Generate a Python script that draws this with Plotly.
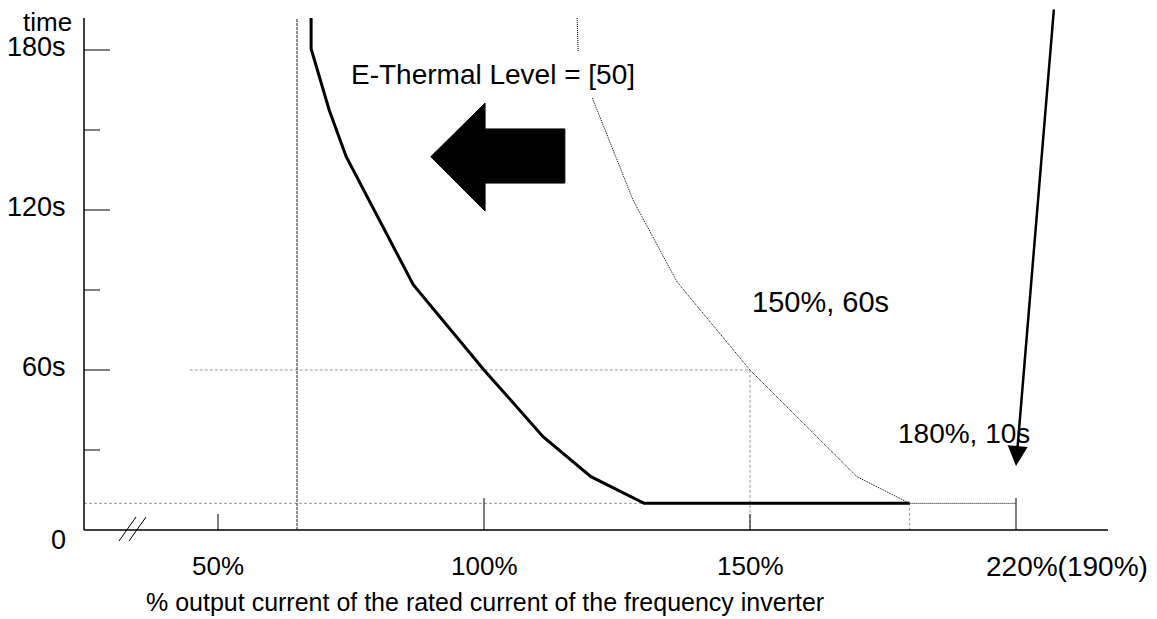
import plotly.graph_objects as go

# ---------------- data ----------------
# solid curve: E-Thermal Level = [50]
THICK_X = [67.5, 67.5, 70.9, 74.1, 86.7, 100.0, 111.1, 120.1, 130.1, 180.0]
THICK_Y = [192, 180.5, 157.5, 140.0, 92.0, 60.0, 35.0, 20.0, 10.0, 10.0]

# dotted curve: default level (150%, 60s / 180%, 10s)
DOT_X = [117.5, 117.7, 120.5, 128.0, 136.3, 150.0, 170.1, 180.0]
DOT_Y = [192, 179.3, 161.3, 123.8, 93.0, 60.0, 20.0, 10.0]

X_TICKS = [50, 100, 150, 200]
X_TICK_LABELS = ["50%", "100%", "150%", "220%(190%)"]
X_TICK_LEN = [16, 32, 16, 32]

Y_TICKS = [30, 60, 90, 120, 150, 180]
Y_TICK_LEN = [16, 26, 16, 26, 16, 26]
Y_LABEL_VALUES = [0, 60, 120, 180]
Y_LABELS = ["0", "60s", "120s", "180s"]

VLINE_X = 64.85            # vertical dashed reference
REF_150 = (150, 60)        # 150%, 60s
REF_180 = (180, 10)        # 180%, 10s
END_X = 200                # end of 10s plateau (dotted)
H60_START = 44.7

# block arrow (pointing left)
BLOCK_X = [90.0, 100.2, 100.2, 115.2, 115.2, 100.2, 100.2, 90.0]
BLOCK_Y = [140.0, 160.1, 150.4, 150.4, 130.1, 130.1, 119.6, 140.0]

# ---------------- layout geometry ----------------
OFF = 8                      # page body margin
W, H = 1157 - OFF, 619 - OFF
PX_PER_PCT = 5.32            # pixels per 1 % on x
PX_PER_S = 160 / 60          # pixels per second on y
X0_PX, Y0_PX = 218, 530      # page position of 50 % and of 0 s


def xd(P):
    return 50 + (P - X0_PX) / PX_PER_PCT


def yd(P):
    return (Y0_PX - P) / PX_PER_S


X_RANGE = [xd(OFF), xd(1157)]
Y_RANGE = [yd(619), yd(OFF)]
X_MIN, X_MAX, Y_TOP = xd(84), xd(1108), yd(18)


def px_x(P):
    return (P - OFF) / W


def px_y(P):
    return 1 - (P - OFF) / H


FONT = "Liberation Sans, Arial, sans-serif"

fig = go.Figure()

# grey dashed guide lines
GREY = dict(color="#9a9a9a", width=1, dash="3px,2px")
fig.add_trace(go.Scatter(x=[H60_START, REF_150[0], REF_150[0]], y=[REF_150[1], REF_150[1], 0],
                         mode="lines", line=GREY, hoverinfo="skip"))
fig.add_trace(go.Scatter(x=[X_MIN, REF_180[0], REF_180[0]], y=[REF_180[1], REF_180[1], 0],
                         mode="lines", line=GREY, hoverinfo="skip"))
# black dotted extension of plateau
fig.add_trace(go.Scatter(x=[REF_180[0], END_X], y=[REF_180[1], REF_180[1]],
                         mode="lines", line=dict(color="black", width=1, dash="1px,1px"), hoverinfo="skip"))
# vertical dashed line
fig.add_trace(go.Scatter(x=[VLINE_X, VLINE_X], y=[0, Y_TOP], mode="lines",
                         line=dict(color="#222222", width=1, dash="3px,1px"), hoverinfo="skip"))
# dotted curve
fig.add_trace(go.Scatter(x=DOT_X, y=DOT_Y, mode="lines",
                         line=dict(color="black", width=1, dash="1px,1px"), hoverinfo="skip"))
# thick curve
fig.add_trace(go.Scatter(x=THICK_X, y=THICK_Y, mode="lines",
                         line=dict(color="black", width=3), hoverinfo="skip"))
# block arrow
fig.add_trace(go.Scatter(x=BLOCK_X, y=BLOCK_Y, mode="lines", fill="toself", fillcolor="black",
                         line=dict(color="black", width=1), hoverinfo="skip"))

shapes = []
# axes
shapes.append(dict(type="line", xref="x", yref="y", x0=X_MIN, x1=X_MAX, y0=0, y1=0,
                   line=dict(color="black", width=1.5)))
shapes.append(dict(type="line", xref="x", yref="y", x0=X_MIN, x1=X_MIN, y0=0, y1=Y_TOP,
                   line=dict(color="black", width=1.5)))
# x ticks
for xv, ln in zip(X_TICKS, X_TICK_LEN):
    shapes.append(dict(type="line", xref="x", yref="y", x0=xv, x1=xv, ysizemode="pixel",
                       yanchor=0, y0=0, y1=ln, line=dict(color="black", width=1)))
# y ticks
for yv, ln in zip(Y_TICKS, Y_TICK_LEN):
    shapes.append(dict(type="line", xref="x", yref="y", y0=yv, y1=yv, xsizemode="pixel",
                       xanchor=X_MIN, x0=0, x1=ln, line=dict(color="black", width=1)))
# axis break marks
BREAK_X = xd(132.5)
for off in (-10, 0):
    shapes.append(dict(type="line", xref="x", yref="y", xsizemode="pixel", ysizemode="pixel",
                       xanchor=BREAK_X, yanchor=0, x0=off - 3.5, x1=off + 13.5, y0=-11, y1=13,
                       line=dict(color="black", width=1)))

ann = []
# y labels
for yv, lab in zip(Y_LABEL_VALUES, Y_LABELS):
    ann.append(dict(x=px_x(68), xref="paper", y=yv, yref="y", text=lab, showarrow=False,
                    xanchor="right", yanchor="middle", yshift=(-10 if yv == 0 else 3),
                    font=dict(family=FONT, size=27, color="black")))
ann.append(dict(x=px_x(73), xref="paper", y=px_y(22), yref="paper", text="time", showarrow=False,
                xanchor="right", yanchor="middle", borderpad=0,
                font=dict(family=FONT, size=26, color="black")))
# x labels
for xv, lab in zip(X_TICKS, X_TICK_LABELS):
    if lab.startswith("220"):
        ann.append(dict(x=px_x(984), xref="paper", y=px_y(566), yref="paper", text=lab,
                        showarrow=False, xanchor="left", yanchor="middle",
                        font=dict(family=FONT, size=28, color="black")))
    else:
        ann.append(dict(x=xv, xref="x", y=px_y(566), yref="paper", text=lab, showarrow=False,
                        xanchor="center", yanchor="middle", font=dict(family=FONT, size=26, color="black")))
# axis title
ann.append(dict(x=px_x(485), xref="paper", y=px_y(602), yref="paper",
                text="% output current of the rated current of the frequency inverter",
                showarrow=False, xanchor="center", yanchor="middle",
                font=dict(family=FONT, size=25, color="black")))
# in-plot texts
ann.append(dict(x=px_x(493), xref="paper", y=px_y(75), yref="paper", text="E-Thermal Level = [50]",
                showarrow=False, xanchor="center", yanchor="middle", bgcolor="white", borderpad=7,
                font=dict(family=FONT, size=28, color="black")))
ann.append(dict(x=px_x(820), xref="paper", y=px_y(302), yref="paper", text="150%, 60s",
                showarrow=False, xanchor="center", yanchor="middle",
                font=dict(family=FONT, size=29, color="black")))
ann.append(dict(x=px_x(964), xref="paper", y=px_y(433), yref="paper", text="180%, 10s",
                showarrow=False, xanchor="center", yanchor="middle",
                font=dict(family=FONT, size=28, color="black")))
# thin arrow pointing at the 220% plateau end
ann.append(dict(x=END_X, xref="x", y=yd(466), yref="y", ax=38, ay=-470, text="", showarrow=True,
                arrowhead=2, arrowsize=1.6, arrowwidth=2.5, arrowcolor="black", standoff=0))

fig.update_layout(
    width=W, height=H, margin=dict(l=0, r=0, t=0, b=0),
    paper_bgcolor="white", plot_bgcolor="white", showlegend=False,
    xaxis=dict(range=X_RANGE, visible=False, fixedrange=True),
    yaxis=dict(range=Y_RANGE, visible=False, fixedrange=True),
    shapes=shapes, annotations=ann,
)

fig.write_html("out.html")
